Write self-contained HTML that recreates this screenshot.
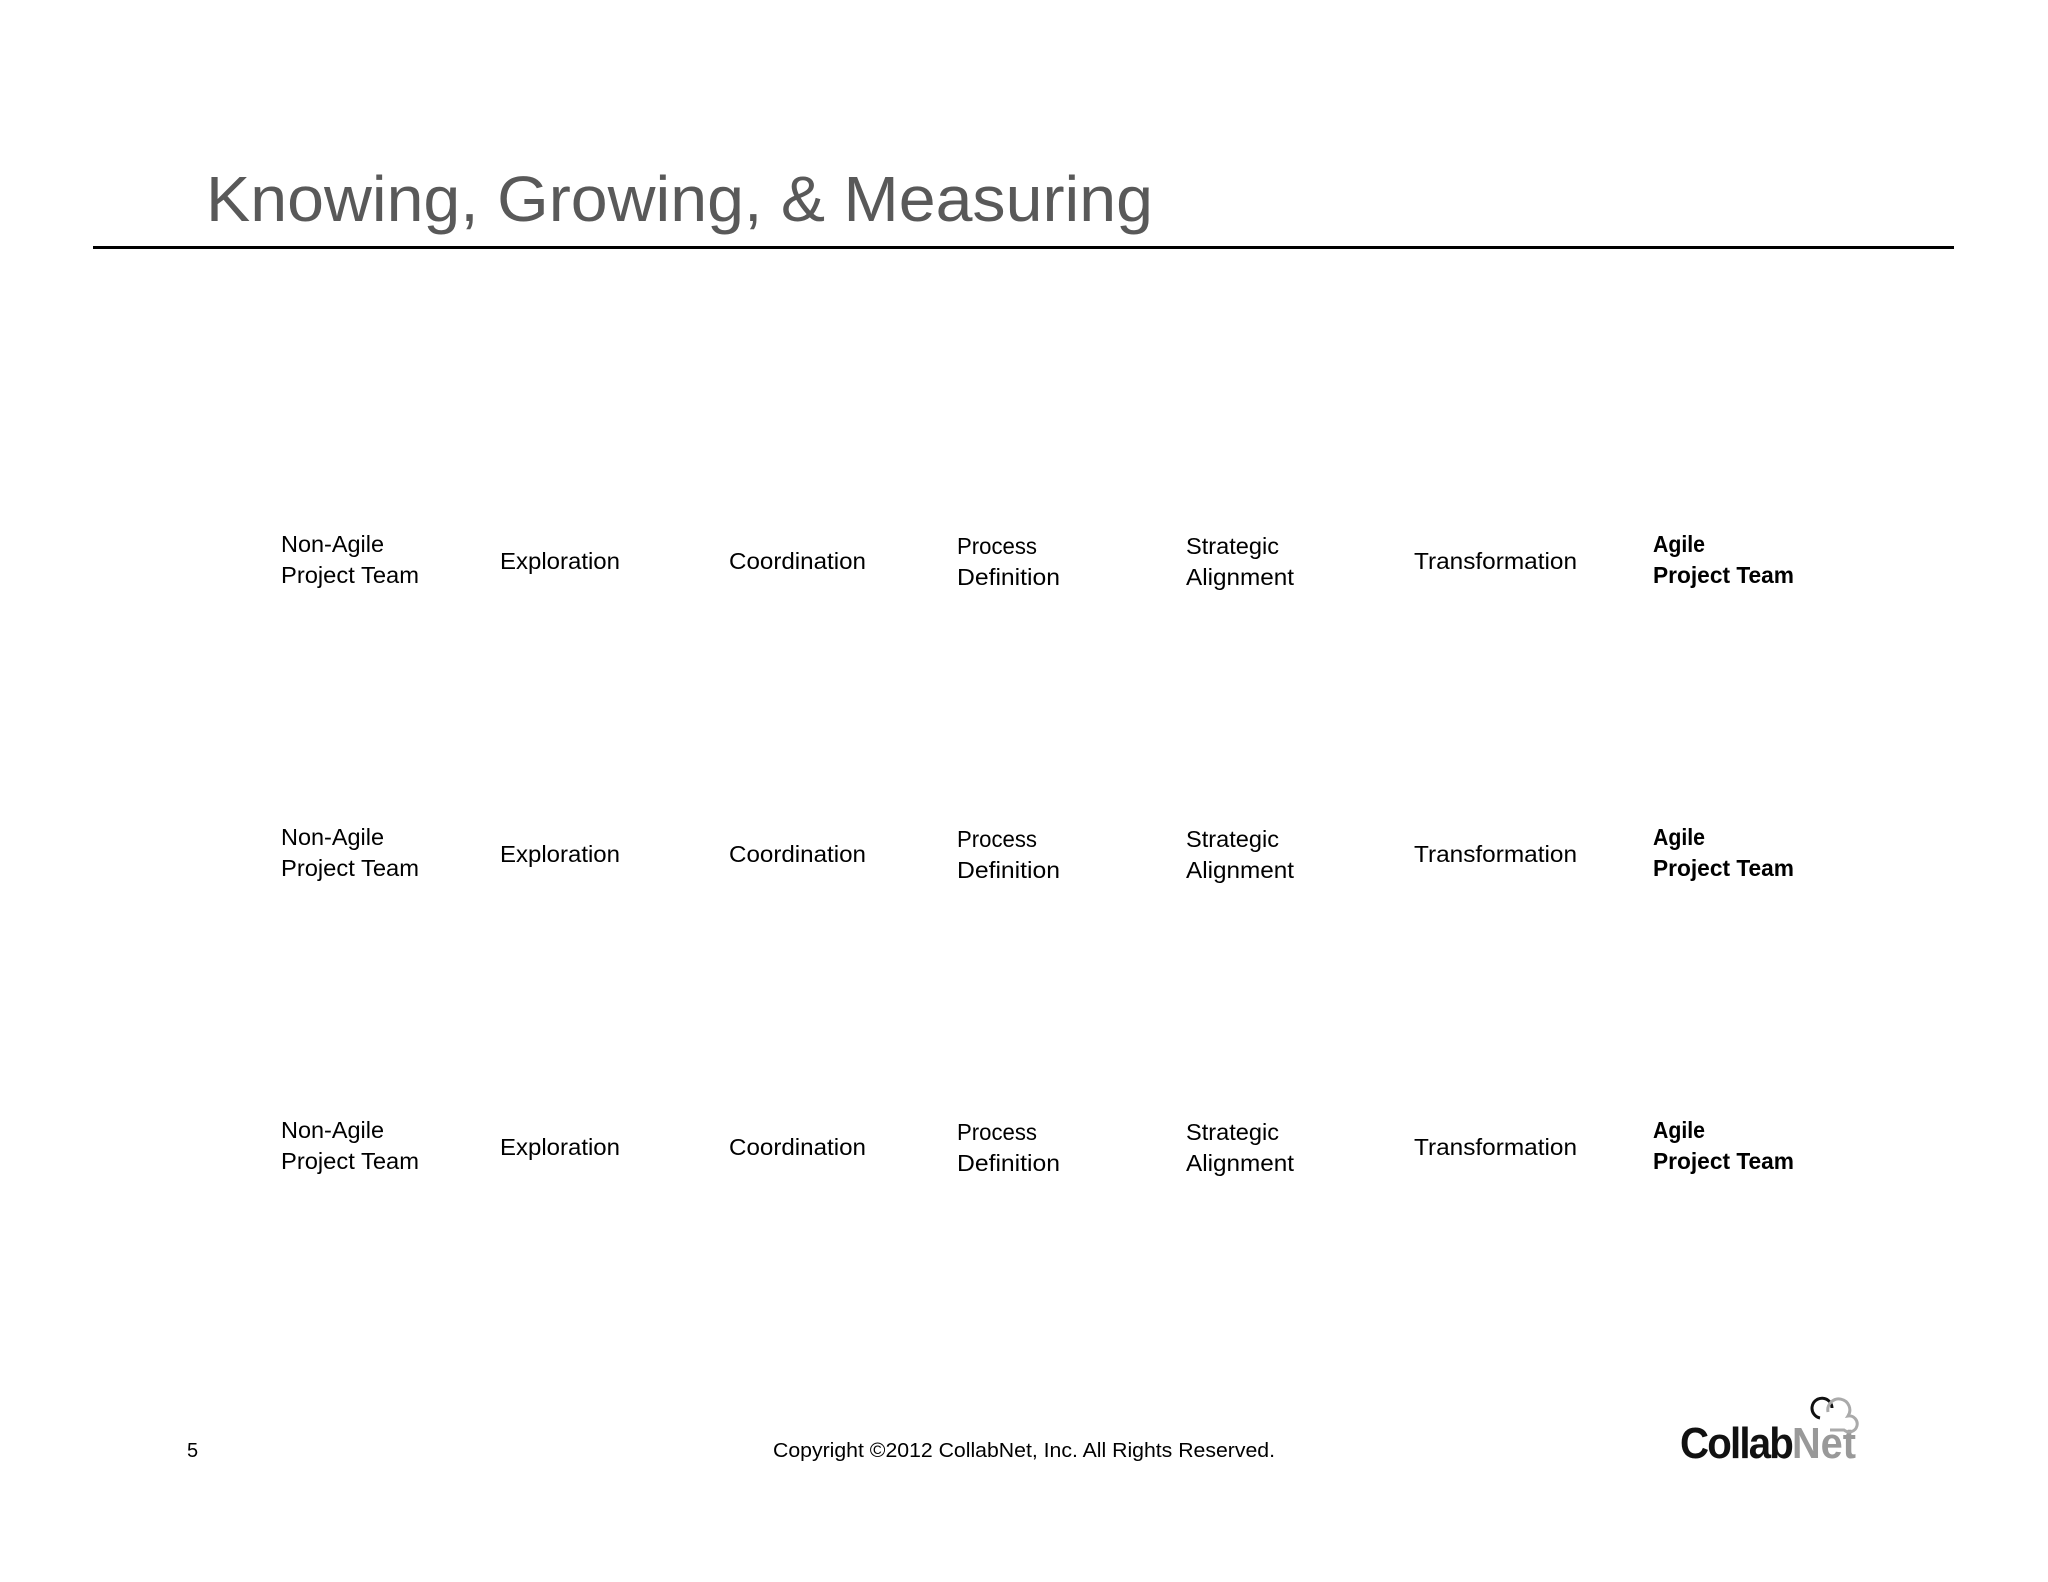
<!DOCTYPE html>
<html><head><meta charset="utf-8"><style>
html,body{margin:0;padding:0;background:#fff;}
svg{display:block;}
text{font-family:"Liberation Sans",sans-serif;}
</style></head><body>
<svg width="2048" height="1582" viewBox="0 0 2048 1582">
<text x="206" y="221" font-size="64" fill="#595959" textLength="947" lengthAdjust="spacingAndGlyphs">Knowing, Growing, &amp; Measuring</text>
<rect x="93" y="246" width="1861" height="3" fill="#000"/>
<g id="rows"></g>
<text x="187" y="1457" font-size="20" fill="#000">5</text>
<text x="773" y="1457" font-size="20" fill="#000" textLength="502" lengthAdjust="spacingAndGlyphs">Copyright ©2012 CollabNet, Inc.  All Rights Reserved.</text>
<g>
<text x="1680" y="1458" font-size="44" font-weight="bold" fill="#111" textLength="112" lengthAdjust="spacingAndGlyphs" letter-spacing="-2">Collab</text>
<text x="1792" y="1458" font-size="44" font-weight="bold" fill="#999" textLength="64" lengthAdjust="spacingAndGlyphs">Net</text>
<path d="M1820 1418 a10 10 0 1 1 12 -10" fill="none" stroke="#111" stroke-width="3"/>
<path d="M1828 1412 a11 11 0 1 1 20 4 a8 8 0 1 1 -4 14 h-14" fill="none" stroke="#aaa" stroke-width="3"/>
</g>
</svg>
<script>
const colX=[281,500,729,957,1186,1414,1653];
const labels=[["Non-Agile","Project Team"],["Exploration"],["Coordination"],["Process","Definition"],["Strategic","Alignment"],["Transformation"],["Agile","Project Team"]];
const widths=[[103,138],[120],[137],[80,103],[93,108],[163],[52,141]];
const rowOffsets=[0,293,586];
const g=document.getElementById('rows');
const NS='http://www.w3.org/2000/svg';
rowOffsets.forEach((off,r)=>{
  labels.forEach((lines,c)=>{
    lines.forEach((s,i)=>{
      const t=document.createElementNS(NS,'text');
      
      
      let y;
      if(lines.length===1) y=569;
      else { y=(i===0?552:583); if(c===3||c===4) y+=2; }
      t.setAttribute('x',colX[c]);
      t.setAttribute('y',y+off);
      t.setAttribute('font-size','23');
      t.setAttribute('fill','#000');
      if(c===6) t.setAttribute('font-weight','bold');
      t.setAttribute('textLength',widths[c][i]);
      t.setAttribute('lengthAdjust','spacingAndGlyphs');
      t.textContent=s;
      g.appendChild(t);
    });
  });
});
</script>
</body></html>
